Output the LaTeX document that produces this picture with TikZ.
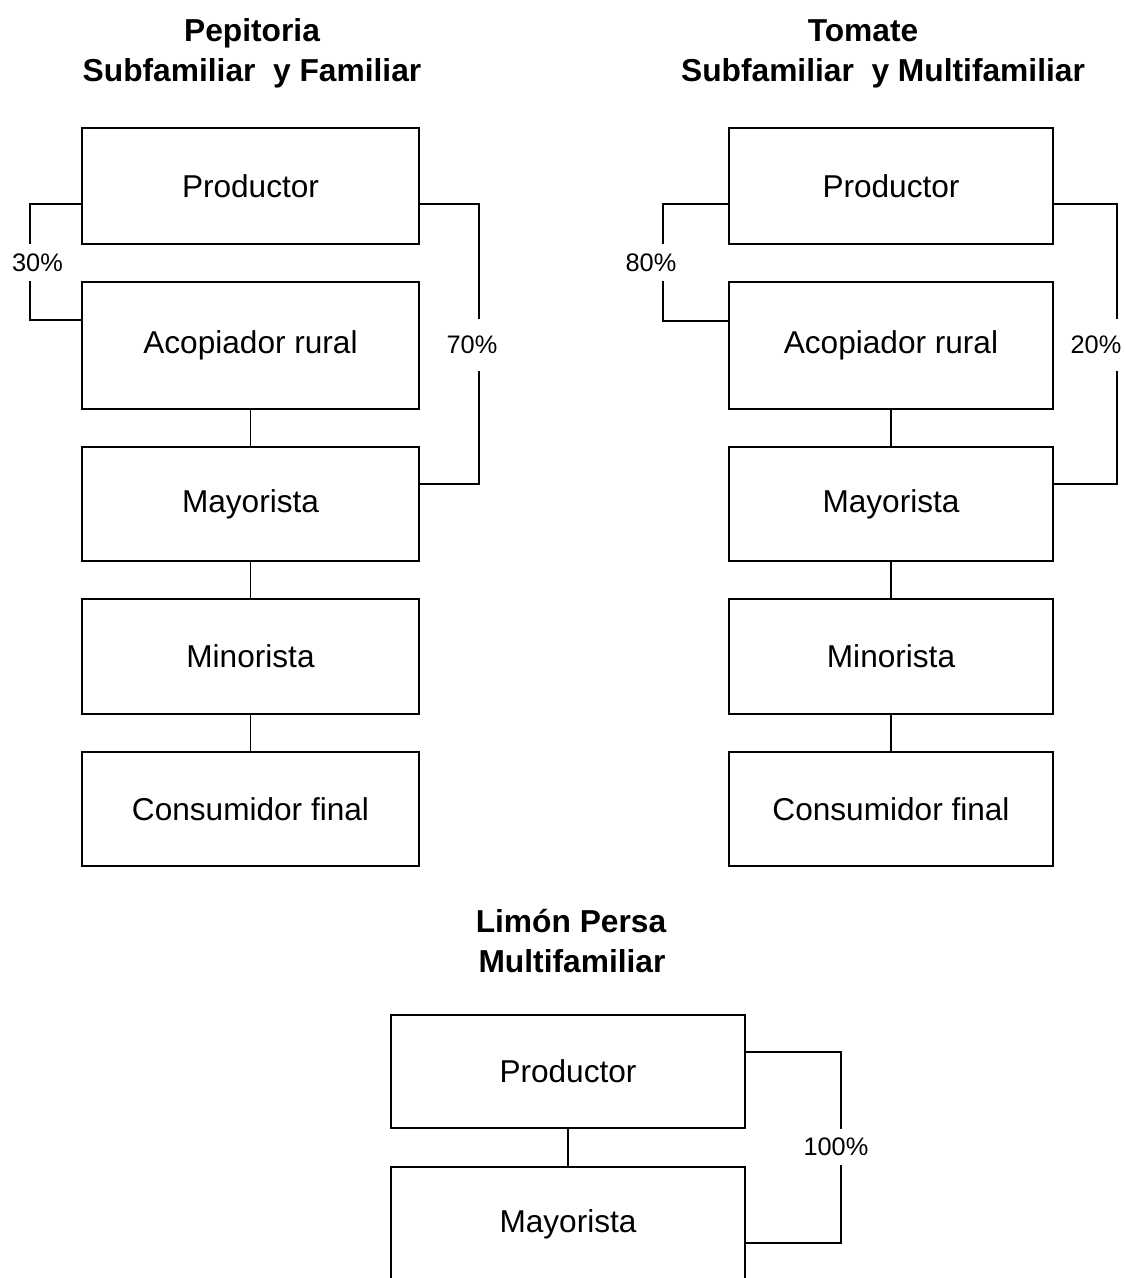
\documentclass[tikz,border=0pt]{standalone}
\usepackage{fontspec}
\setmainfont{Liberation Sans}

\tikzset{every picture/.style={line width=0.75pt}}
\tikzset{
  caja/.style args={#1x#2}{draw, line width=1.3pt, inner sep=0pt, minimum width=#1, minimum height=#2, font=\fontsize{23.7}{28}\selectfont},
  titulo/.style={anchor=base, inner sep=0pt, font=\fontsize{23.8}{30}\selectfont\bfseries},
  linea/.style={line width=1.3pt},
  pct/.style={fill=white, inner xsep=1pt, inner ysep=#1, font=\fontsize{19}{22}\selectfont},
  pct/.default=7pt
}

\begin{document}
\begin{tikzpicture}[x=0.75pt,y=0.75pt,yscale=-1,xscale=1]
    \useasboundingbox (0,0) rectangle (1125,1278); %set diagram size as the reference

    % Titles
    \node [titulo] (pepTitA) at (252,41) {Pepitoria};
    \node [titulo] (pepTitB) at (252,81) {Subfamiliar~ y Familiar};
    \node [titulo] (tomTitA) at (863,41) {Tomate};
    \node [titulo] (tomTitB) at (883,81) {Subfamiliar~ y Multifamiliar};
    \node [titulo] (limTitA) at (571,932) {Limón Persa};
    \node [titulo] (limTitB) at (572,972) {Multifamiliar};

    % Pepitoria chain
    \node [caja=252.75pt x 87pt] (pepProd) at (250.5,186) {Productor};
    \node [caja=252.75pt x 95.25pt] (pepAcop) at (250.5,345.5) {Acopiador rural};
    \node [caja=252.75pt x 85.5pt] (pepMay) at (250.5,504) {Mayorista};
    \node [caja=252.75pt x 86.25pt] (pepMin) at (250.5,656.5) {Minorista};
    \node [caja=252.75pt x 85.5pt] (pepCons) at (250.5,809) {Consumidor final};

    % Tomate chain
    \node [caja=243pt x 87pt] (tomProd) at (891,186) {Productor};
    \node [caja=243pt x 95.25pt] (tomAcop) at (891,345.5) {Acopiador rural};
    \node [caja=243pt x 85.5pt] (tomMay) at (891,504) {Mayorista};
    \node [caja=243pt x 86.25pt] (tomMin) at (891,656.5) {Minorista};
    \node [caja=243pt x 85.5pt] (tomCons) at (891,809) {Consumidor final};

    % Limon chain
    \node [caja=265.5pt x 84.75pt] (limProd) at (568,1071.5) {Productor};
    \node [caja=265.5pt x 85.5pt] (limMay) at (568,1224) {Mayorista};

    % Straight links
    \draw [linea] (pepAcop) -- (pepMay);
    \draw [linea] (pepMay) -- (pepMin);
    \draw [linea] (pepMin) -- (pepCons);
    \draw [linea] (tomAcop) -- (tomMay);
    \draw [linea] (tomMay) -- (tomMin);
    \draw [linea] (tomMin) -- (tomCons);
    \draw [linea] (limProd) -- (limMay);

    % Side links with shares
    \draw [linea] ([yshift=13.5pt]pepProd.west) -| (30,262.5) node [pct, xshift=5.6pt] {30\%} |- ([yshift=-19pt]pepAcop.west);
    \draw [linea] ([yshift=13.5pt]pepProd.east) -| (479,345) node [pct=13pt, xshift=-5.3pt] {70\%} |- ([yshift=-15pt]pepMay.east);
    \draw [linea] ([yshift=13.5pt]tomProd.west) -| (663,262.5) node [pct, xshift=-9pt] {80\%} |- ([yshift=-18.4pt]tomAcop.west);
    \draw [line width=2pt] ([yshift=-18.4pt]tomAcop.west) -- ++(-66,0);
    \draw [linea] ([yshift=13.5pt]tomProd.east) -| (1117,345) node [pct=13pt, xshift=-15.8pt] {20\%} |- ([yshift=-15pt]tomMay.east);
    \draw [linea] ([yshift=-14.6pt]limProd.east) -| (841,1147) node [pct, xshift=-3.8pt] {100\%} |- ([yshift=14.3pt]limMay.east);

\end{tikzpicture}
\end{document}
